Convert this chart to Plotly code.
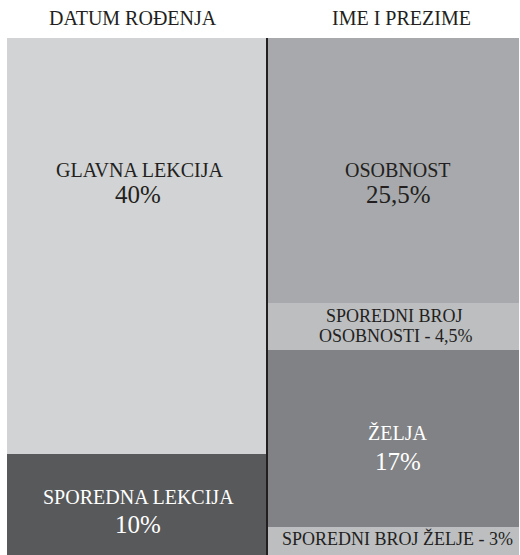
import plotly.graph_objects as go

# ---- data ----
columns = ["DATUM ROĐENJA", "IME I PREZIME"]
segment_column = [0, 0, 1, 1, 1, 1]
segment_names = ["GLAVNA LEKCIJA", "SPOREDNA LEKCIJA", "OSOBNOST",
                 "SPOREDNI BROJ OSOBNOSTI", "ŽELJA", "SPOREDNI BROJ ŽELJE"]
segment_values = [40, 10, 25.5, 4.5, 17, 3]
segment_value_labels = ["40%", "10%", "25,5%", "4,5%", "17%", "3%"]

# ---- styles ----
colors = ["#d1d3d4", "#58595b", "#a7a9ac", "#bcbec0", "#808285", "#bcbec0"]
text_colors = ["#231f20", "#ffffff", "#231f20", "#231f20", "#ffffff", "#231f20"]
FONT = "Liberation Serif, Times New Roman, serif"
W, H = 520, 555
ML, MR, MT, MB = 7, 1, 38, 0
col_centers = [129.5, 386.5]
col_widths = [259, 251]
YMAX = 49.7

fig = go.Figure()
for i, (name, val) in enumerate(zip(segment_names, segment_values)):
    c = segment_column[i]
    fig.add_trace(go.Bar(
        x=[col_centers[c]], y=[val], width=[col_widths[c]],
        marker=dict(color=colors[i], line=dict(width=0)),
        name=name, showlegend=False, hoverinfo="skip",
    ))

plot_h = H - MT - MB
plot_w = W - ML - MR
def py(px):
    return (px - MT) * YMAX / plot_h

annotations = []
# headers (above plot area, paper coordinates)
header_x = [132.5, 401.5]
for t, hx in zip(columns, header_x):
    annotations.append(dict(x=(hx - ML) / plot_w, y=1 + (MT - 18.5) / plot_h,
                            xref="paper", yref="paper",
                            text=t, showarrow=False,
                            font=dict(family=FONT, size=20, color="#231f20"),
                            yanchor="middle", xanchor="center"))

def lab(x, ypx, text, size, color):
    annotations.append(dict(x=x - ML, y=py(ypx), xref="x", yref="y", text=text, showarrow=False,
                            font=dict(family=FONT, size=size, color=color),
                            xanchor="center", yanchor="middle"))

# GLAVNA LEKCIJA
lab(139, 170, segment_names[0], 20, text_colors[0])
lab(137.5, 194, segment_value_labels[0], 25, text_colors[0])
# SPOREDNA LEKCIJA
lab(138, 497, segment_names[1], 20, text_colors[1])
lab(138, 524, segment_value_labels[1], 25, text_colors[1])
# OSOBNOST
lab(397.5, 170, segment_names[2], 20, text_colors[2])
lab(398, 194, segment_value_labels[2], 25, text_colors[2])
# SPOREDNI BROJ OSOBNOSTI
lab(394.5, 316, "SPOREDNI BROJ", 18, text_colors[3])
lab(396, 335.5, "OSOBNOSTI - " + segment_value_labels[3], 18, text_colors[3])
# ŽELJA
lab(397.5, 433, segment_names[4], 20, text_colors[4])
lab(397.5, 461, segment_value_labels[4], 25, text_colors[4])
# SPOREDNI BROJ ŽELJE
lab(397.5, 538.5, segment_names[5] + " - " + segment_value_labels[5], 18, text_colors[5])

fig.update_layout(
    width=W, height=H,
    margin=dict(l=ML, r=MR, t=MT, b=MB, pad=0),
    barmode="stack", bargap=0,
    paper_bgcolor="#ffffff", plot_bgcolor="#ffffff",
    xaxis=dict(range=[0, plot_w], visible=False, fixedrange=True),
    yaxis=dict(range=[YMAX, 0], visible=False, fixedrange=True),
    annotations=annotations,
    shapes=[dict(type="line", xref="x", yref="paper", x0=260, x1=260, y0=0, y1=1,
                 line=dict(color="#231f20", width=2))],
)
fig.write_html("out.html", config={"displayModeBar": False})
